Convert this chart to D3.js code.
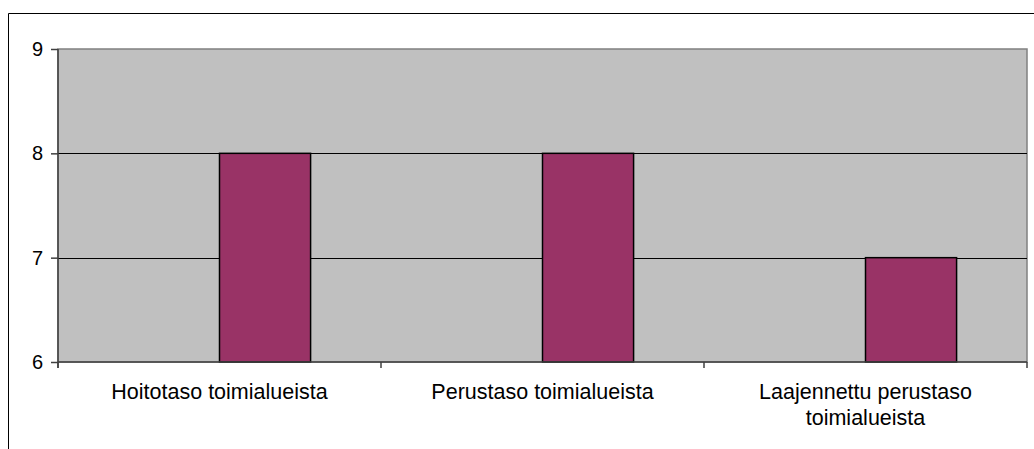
<!DOCTYPE html>
<html>
<head>
<meta charset="utf-8">
<script src="https://cdn.jsdelivr.net/npm/d3@7"></script>
<style>
body { margin: 0; background: #fff; }
text { font-family: "Liberation Sans", Arial, sans-serif; fill: #000; }
</style>
</head>
<body>
<div id="chart"></div>
<script>
// chart data
var categories = [['Hoitotaso toimialueista'], ['Perustaso toimialueista'], ['Laajennettu perustaso', 'toimialueista']];
var values = [8, 8, 7];
var yTicks = [6, 7, 8, 9];

var width = 1034, height = 449;
var plotLeft = 58, plotTop = 49, plotRight = 1027, plotBottom = 362;

var svg = d3.select('#chart').append('svg')
  .attr('width', width)
  .attr('height', height);

// outer frame (left and top edges visible)
svg.append('path')
  .attr('d', 'M8.5,449 V13.5 H1034')
  .attr('fill', 'none')
  .attr('stroke', '#000')
  .attr('stroke-width', 1);

var x = d3.scaleBand()
  .domain(d3.range(categories.length))
  .range([plotLeft, plotRight]);

var y = d3.scaleLinear()
  .domain([6, 9])
  .range([plotBottom, plotTop]);

var barWidth = x.bandwidth() * 0.282;

// plot area
svg.append('rect')
  .attr('x', plotLeft).attr('y', plotTop)
  .attr('width', plotRight - plotLeft).attr('height', plotBottom - plotTop)
  .attr('fill', '#c0c0c0')
  .attr('stroke', '#808080')
  .attr('stroke-width', 1.5);

// gridlines
svg.append('g').selectAll('line')
  .data(yTicks.slice(1, -1))
  .enter().append('line')
  .attr('x1', plotLeft).attr('x2', plotRight)
  .attr('y1', function(d) { return Math.round(y(d)) + 0.5; })
  .attr('y2', function(d) { return Math.round(y(d)) + 0.5; })
  .attr('stroke', '#000');

// bars
svg.append('g').selectAll('rect')
  .data(values)
  .enter().append('rect')
  .attr('x', function(d, i) { return x(i) + x.bandwidth() / 2; })
  .attr('y', function(d) { return y(d); })
  .attr('width', barWidth)
  .attr('height', function(d) { return y(6) - y(d); })
  .attr('fill', '#993366')
  .attr('stroke', '#000')
  .attr('stroke-width', 1.5);

// y axis
var yAxis = svg.append('g')
  .attr('transform', 'translate(' + plotLeft + ',0)')
  .call(d3.axisLeft(y).tickValues(yTicks).tickFormat(d3.format('d')).tickSize(7).tickPadding(8));
yAxis.selectAll('line, path').attr('stroke', '#404040').attr('stroke-width', 1.5);
yAxis.select('.domain').attr('d', 'M0,' + plotTop + 'V' + (plotBottom + 6));
yAxis.selectAll('text').style('font-size', '20px').attr('fill', '#000');

// x axis
svg.append('line')
  .attr('x1', plotLeft).attr('x2', plotRight)
  .attr('y1', plotBottom).attr('y2', plotBottom)
  .attr('stroke', '#404040').attr('stroke-width', 1.5);
svg.append('g').selectAll('line')
  .data(d3.range(categories.length + 1))
  .enter().append('line')
  .attr('x1', function(d) { return plotLeft + d * x.step(); })
  .attr('x2', function(d) { return plotLeft + d * x.step(); })
  .attr('y1', plotBottom).attr('y2', plotBottom + 6)
  .attr('stroke', '#404040').attr('stroke-width', 1.5);

// category labels
var labels = svg.append('g').selectAll('text')
  .data(categories)
  .enter().append('text')
  .attr('x', function(d, i) { return x(i) + x.bandwidth() / 2; })
  .attr('y', 399)
  .attr('text-anchor', 'middle')
  .style('font-size', '21.5px');
labels.selectAll('tspan')
  .data(function(d) { return d; })
  .enter().append('tspan')
  .attr('x', function() { return d3.select(this.parentNode).attr('x'); })
  .attr('dy', function(d, i) { return i === 0 ? 0 : 26; })
  .text(function(d) { return d; });
</script>
</body>
</html>
